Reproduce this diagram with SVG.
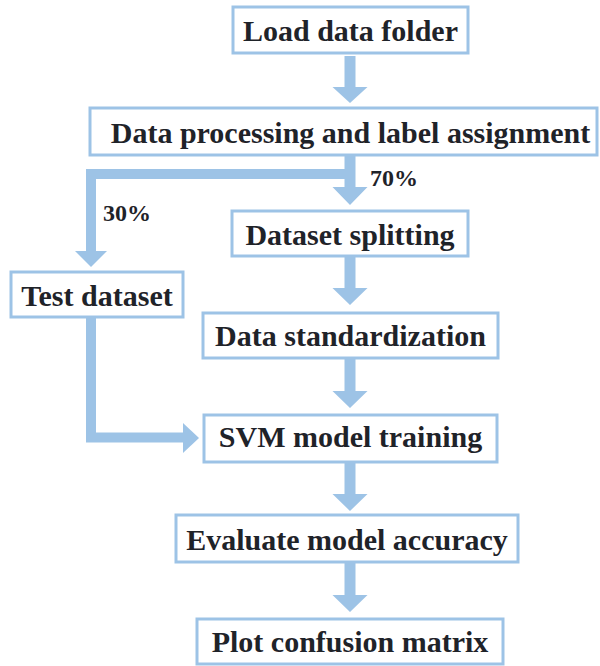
<svg xmlns="http://www.w3.org/2000/svg" width="600" height="666" viewBox="0 0 600 666">
<style>
.box{fill:#fff;stroke:#9dc3e6;stroke-width:3}
.t{font-family:"Liberation Serif","Times New Roman",serif;font-weight:bold;font-size:30px;fill:#1f2329;text-anchor:middle}
.p{font-family:"Liberation Serif","Times New Roman",serif;font-weight:bold;font-size:24px;fill:#1f2329}
.arr{fill:#9dc3e6}
.ln{fill:none;stroke:#9dc3e6;stroke-width:10}
</style>
<rect width="600" height="666" fill="#fff"/>
<g id="connectors">
<path class="arr" d="M344.5,56 h11 v31 h12 l-17.5,16 l-17.5,-16 h12 z"/>
<path class="ln" d="M350,174 H91 V252"/>
<path class="arr" d="M75,251 h32 l-16,16 z"/>
<path class="arr" d="M344.5,155 h11 v32 h12 l-17.5,18 l-17.5,-18 h12 z"/>
<path class="arr" d="M344.5,256 h11 v32 h12 l-17.5,17 l-17.5,-17 h12 z"/>
<path class="arr" d="M344.5,358 h11 v33 h12 l-17.5,17 l-17.5,-17 h12 z"/>
<path class="arr" d="M344.5,462 h11 v32 h12 l-17.5,17 l-17.5,-17 h12 z"/>
<path class="arr" d="M344.5,562 h11 v33 h12 l-17.5,17 l-17.5,-17 h12 z"/>
<path class="ln" d="M91,318 V437.5 H184"/>
<path class="arr" d="M183,423 l16,15 l-16,15 z"/>
<text class="p" x="370" y="186">70%</text>
<text class="p" x="103" y="221">30%</text>
</g>
<g id="n1"><rect class="box" x="233" y="7" width="235" height="46"/><text class="t" x="350.5" y="41">Load data folder</text></g>
<g id="n2"><rect class="box" x="90" y="108" width="507" height="47"/><text class="t" x="350.5" y="143">Data processing and label assignment</text></g>
<g id="n3"><rect class="box" x="232" y="211" width="236" height="45"/><text class="t" x="350" y="245">Dataset splitting</text></g>
<g id="n4"><rect class="box" x="11" y="272" width="172" height="45"/><text class="t" x="97" y="306">Test dataset</text></g>
<g id="n5"><rect class="box" x="203" y="313" width="295" height="45"/><text class="t" x="350.5" y="346">Data standardization</text></g>
<g id="n6"><rect class="box" x="204" y="415" width="293" height="47"/><text class="t" x="350.5" y="447">SVM model training</text></g>
<g id="n7"><rect class="box" x="176" y="515" width="342" height="47"/><text class="t" x="347" y="550">Evaluate model accuracy</text></g>
<g id="n8"><rect class="box" x="197" y="619" width="306" height="45"/><text class="t" x="350" y="652">Plot confusion matrix</text></g>
</svg>
